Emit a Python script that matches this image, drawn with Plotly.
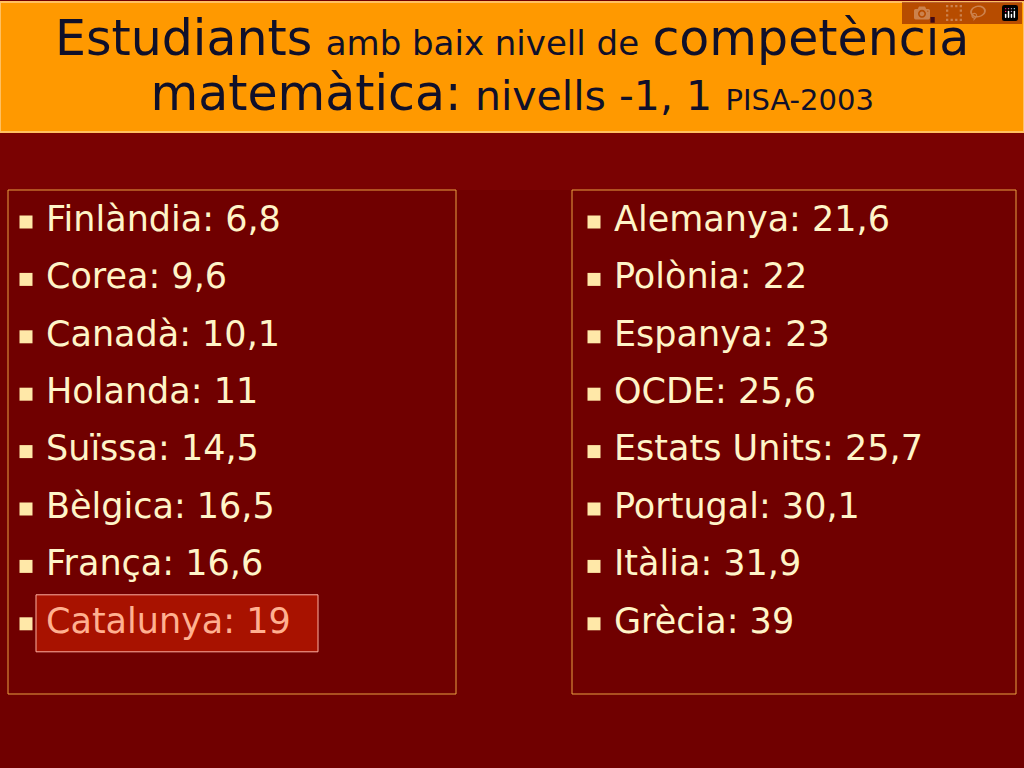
import plotly.graph_objects as go

left_countries = ["Finlàndia", "Corea", "Canadà", "Holanda", "Suïssa", "Bèlgica", "França", "Catalunya"]
left_values = ["6,8", "9,6", "10,1", "11", "14,5", "16,5", "16,6", "19"]
right_countries = ["Alemanya", "Polònia", "Espanya", "OCDE", "Estats Units", "Portugal", "Itàlia", "Grècia"]
right_values = ["21,6", "22", "23", "25,6", "25,7", "30,1", "31,9", "39"]
highlight = "Catalunya"

y0, step = 222, 57.4
font = "DejaVu Sans"
fig = go.Figure()
shapes = [
    dict(type="rect", x0=0, x1=1024, y0=0, y1=768, fillcolor="#700000", line_width=0, layer="below"),
    dict(type="rect", x0=0, x1=1024, y0=132, y1=190, fillcolor="#7a0202", line_width=0, layer="below"),
    dict(type="rect", x0=0, x1=1024, y0=2, y1=132, fillcolor="#ff9900", line=dict(color="#ffc060", width=2), layer="below"),
    dict(type="rect", x0=8, x1=456, y0=190, y1=694, line=dict(color="#e8a040", width=1), layer="below"),
    dict(type="rect", x0=572, x1=1016, y0=190, y1=694, line=dict(color="#e8a040", width=1), layer="below"),
]
for col, (names, vals, xb) in enumerate([(left_countries, left_values, 26), (right_countries, right_values, 594)]):
    ys = [y0 + i * step for i in range(len(names))]
    texts = [f"{n}: {v}" for n, v in zip(names, vals)]
    colors = ["#ffb090" if n == highlight else "#fff4c8" for n in names]
    for n, y in zip(names, ys):
        if n == highlight:
            shapes.append(dict(type="rect", x0=36, x1=318, y0=y - 29, y1=y + 28, fillcolor="#a81200",
                               line=dict(color="#ffb0a0", width=1), layer="below"))
    fig.add_trace(go.Scatter(x=[xb] * len(ys), y=ys, mode="markers",
                             marker=dict(symbol="square", size=13, color="#ffe8a8"), hoverinfo="skip"))
    fig.add_trace(go.Scatter(x=[xb + 20] * len(ys), y=ys, mode="text", text=texts, textposition="middle right",
                             textfont=dict(family=font, size=35, color=colors), hoverinfo="skip"))

title = ("<span style='font-size:49px'>Estudiants</span> <span style='font-size:34px'>amb baix nivell de</span> "
         "<span style='font-size:49px'>competència</span><br>"
         "<span style='font-size:49px'>matemàtica:</span> <span style='font-size:41px'>nivells -1, 1</span> "
         "<span style='font-size:29px'>PISA-2003</span>")
fig.add_annotation(x=512, y=66, text=title, showarrow=False, font=dict(family=font, color="#10102a", size=42),
                   xref="x", yref="y")
fig.update_layout(width=1024, height=768, margin=dict(l=0, r=0, t=0, b=0), showlegend=False,
                  paper_bgcolor="#700000", plot_bgcolor="#700000", shapes=shapes,
                  xaxis=dict(range=[0, 1024], visible=False, fixedrange=True),
                  yaxis=dict(range=[768, 0], visible=False, fixedrange=True))
fig.write_html("out.html", post_script="document.body.style.margin='0';document.body.style.overflow='hidden';")
